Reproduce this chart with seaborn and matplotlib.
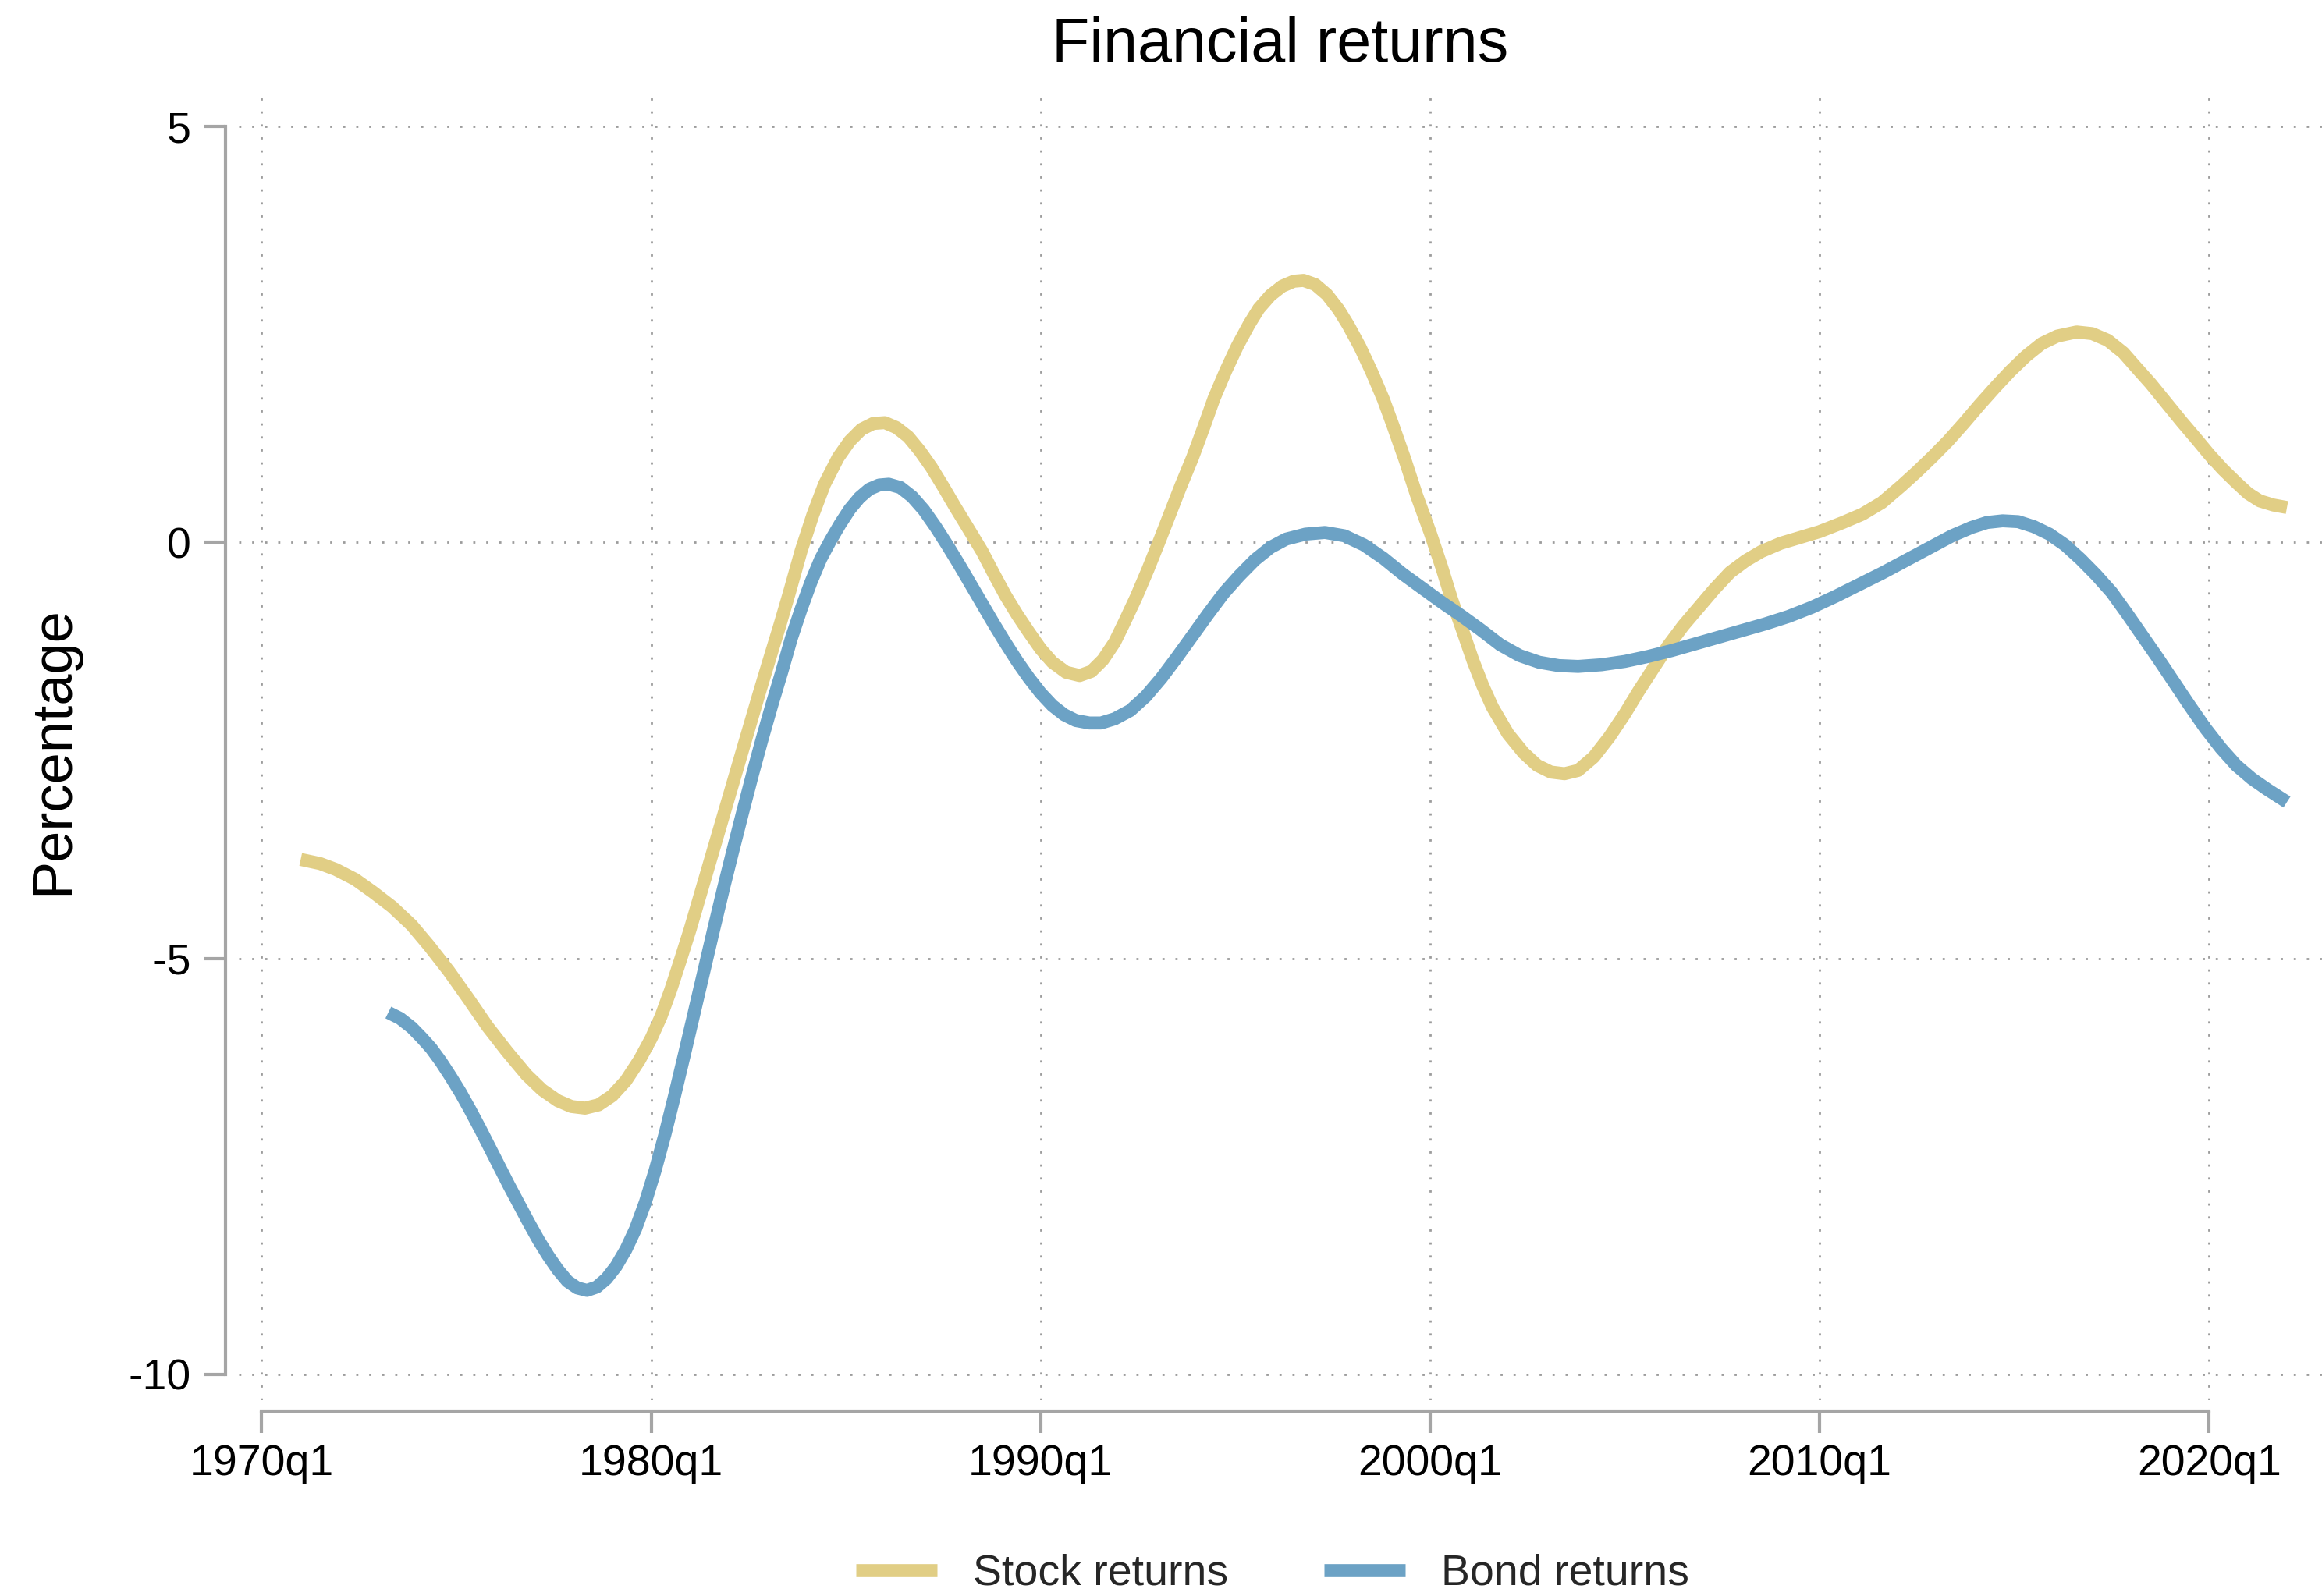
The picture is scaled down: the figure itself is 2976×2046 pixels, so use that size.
import numpy as np
import pandas as pd
import matplotlib
matplotlib.use("Agg")
import matplotlib.pyplot as plt
import seaborn as sns

# ---- data ----
stock_years = [1971.0, 1971.5, 1971.9, 1972.4, 1972.85, 1973.35, 1973.85, 1974.3, 1974.8,
               1975.3, 1975.8, 1976.3, 1976.8, 1977.2, 1977.6, 1977.95, 1978.3, 1978.65,
               1979.0, 1979.35, 1979.7, 1980.0, 1980.25, 1980.5, 1980.75, 1981.0, 1981.25,
               1981.5, 1981.75, 1982.0, 1982.25, 1982.5, 1982.75, 1983.0, 1983.3, 1983.55,
               1983.85, 1984.15, 1984.45, 1984.8, 1985.1, 1985.4, 1985.7, 1986.0, 1986.3,
               1986.6, 1986.9, 1987.2, 1987.5, 1987.8, 1988.1, 1988.5, 1988.8, 1989.1,
               1989.4, 1989.7, 1990.0, 1990.3, 1990.65, 1991.0, 1991.3, 1991.6, 1991.9,
               1992.15, 1992.45, 1992.75, 1993.05, 1993.3, 1993.6, 1993.9, 1994.2, 1994.45,
               1994.75, 1995.05, 1995.35, 1995.6, 1995.9, 1996.2, 1996.5, 1996.75, 1997.05,
               1997.35, 1997.65, 1997.9, 1998.2, 1998.5, 1998.8, 1999.05, 1999.35, 1999.65,
               2000.0, 2000.3, 2000.55, 2000.85, 2001.1, 2001.35, 2001.6, 2002.0, 2002.4,
               2002.75, 2003.1, 2003.45, 2003.8, 2004.2, 2004.6, 2005.0, 2005.35, 2005.75,
               2006.1, 2006.5, 2006.9, 2007.3, 2007.7, 2008.1, 2008.5, 2009.0, 2009.5,
               2010.0, 2010.6, 2011.1, 2011.6, 2012.1, 2012.5, 2012.9, 2013.3, 2013.7,
               2014.1, 2014.5, 2014.9, 2015.3, 2015.7, 2016.1, 2016.6, 2017.0, 2017.4,
               2017.8, 2018.1, 2018.5, 2018.9, 2019.3, 2019.7, 2020.0, 2020.35, 2020.7,
               2021.0, 2021.3, 2021.65, 2022.0]
stock_values = [-3.81, -3.86, -3.93, -4.05, -4.20, -4.38, -4.60, -4.85, -5.15,
                -5.48, -5.82, -6.12, -6.40, -6.58, -6.71, -6.78, -6.80, -6.76,
                -6.65, -6.47, -6.22, -5.96, -5.70, -5.38, -5.02, -4.65, -4.25,
                -3.85, -3.45, -3.05, -2.65, -2.25, -1.85, -1.46, -1.00, -0.60,
                -0.10, 0.33, 0.70, 1.02, 1.22, 1.36, 1.43, 1.44, 1.38,
                1.27, 1.10, 0.90, 0.67, 0.43, 0.20, -0.11, -0.38, -0.64,
                -0.87, -1.08, -1.28, -1.44, -1.56, -1.60, -1.55, -1.41, -1.20,
                -0.96, -0.66, -0.33, 0.02, 0.32, 0.68, 1.02, 1.40, 1.73,
                2.06, 2.36, 2.62, 2.81, 2.97, 3.08, 3.14, 3.15, 3.10,
                2.98, 2.80, 2.61, 2.35, 2.05, 1.72, 1.40, 1.00, 0.57,
                0.12, -0.30, -0.68, -1.08, -1.42, -1.72, -1.98, -2.30, -2.53,
                -2.68, -2.76, -2.78, -2.74, -2.58, -2.34, -2.06, -1.79, -1.50,
                -1.25, -1.00, -0.78, -0.56, -0.36, -0.22, -0.11, -0.01, 0.06,
                0.13, 0.24, 0.34, 0.48, 0.68, 0.85, 1.03, 1.22, 1.43,
                1.65, 1.86, 2.06, 2.24, 2.39, 2.48, 2.53, 2.51, 2.43,
                2.28, 2.12, 1.91, 1.68, 1.45, 1.23, 1.06, 0.88, 0.72,
                0.59, 0.50, 0.45, 0.42]

bond_years = [1973.25, 1973.55, 1973.85, 1974.1, 1974.35, 1974.6, 1974.85, 1975.1, 1975.35,
              1975.6, 1975.85, 1976.1, 1976.35, 1976.6, 1976.85, 1977.1, 1977.35, 1977.6,
              1977.85, 1978.1, 1978.35, 1978.6, 1978.85, 1979.1, 1979.35, 1979.6, 1979.85,
              1980.1, 1980.35, 1980.6, 1980.85, 1981.1, 1981.35, 1981.6, 1981.85, 1982.1,
              1982.35, 1982.6, 1982.85, 1983.1, 1983.35, 1983.6, 1983.85, 1984.1, 1984.35,
              1984.6, 1984.85, 1985.1, 1985.35, 1985.6, 1985.85, 1986.1, 1986.4, 1986.7,
              1987.0, 1987.3, 1987.6, 1987.9, 1988.2, 1988.5, 1988.8, 1989.1, 1989.4,
              1989.7, 1990.0, 1990.3, 1990.6, 1990.9, 1991.25, 1991.55, 1991.9, 1992.3,
              1992.7, 1993.1, 1993.5, 1993.9, 1994.3, 1994.7, 1995.1, 1995.5, 1995.9,
              1996.3, 1996.8, 1997.3, 1997.8, 1998.3, 1998.8, 1999.3, 1999.8, 2000.3,
              2000.8, 2001.3, 2001.8, 2002.3, 2002.8, 2003.3, 2003.8, 2004.4, 2005.0,
              2005.6, 2006.2, 2006.8, 2007.4, 2008.0, 2008.6, 2009.2, 2009.8, 2010.4,
              2011.0, 2011.6, 2012.2, 2012.8, 2013.4, 2013.9, 2014.3, 2014.7, 2015.1,
              2015.5, 2015.9, 2016.3, 2016.7, 2017.1, 2017.5, 2017.9, 2018.3, 2018.7,
              2019.1, 2019.5, 2019.9, 2020.3, 2020.7, 2021.1, 2021.5, 2022.0]
bond_values = [-5.65, -5.72, -5.83, -5.95, -6.08, -6.24, -6.42, -6.61, -6.82,
               -7.04, -7.27, -7.50, -7.73, -7.95, -8.17, -8.38, -8.57, -8.74,
               -8.88, -8.96, -8.99, -8.95, -8.85, -8.70, -8.50, -8.25, -7.93,
               -7.55, -7.12, -6.65, -6.16, -5.66, -5.16, -4.66, -4.17, -3.70,
               -3.24, -2.79, -2.36, -1.95, -1.56, -1.15, -0.80, -0.48, -0.20,
               0.02, 0.22, 0.40, 0.54, 0.64, 0.69, 0.70, 0.66, 0.55,
               0.39, 0.19, -0.03, -0.26, -0.50, -0.74, -0.98, -1.21, -1.43,
               -1.63, -1.81, -1.96, -2.07, -2.14, -2.17, -2.17, -2.12, -2.02,
               -1.85, -1.63, -1.38, -1.12, -0.86, -0.61, -0.40, -0.21, -0.06,
               0.04, 0.10, 0.12, 0.08, -0.03, -0.19, -0.38, -0.55, -0.72,
               -0.88, -1.05, -1.23, -1.36, -1.44, -1.48, -1.49, -1.47, -1.43,
               -1.37, -1.30, -1.22, -1.14, -1.06, -0.98, -0.89, -0.78, -0.65,
               -0.51, -0.37, -0.22, -0.07, 0.08, 0.18, 0.24, 0.26, 0.25,
               0.19, 0.10, -0.03, -0.20, -0.39, -0.60, -0.86, -1.13, -1.40,
               -1.68, -1.96, -2.23, -2.47, -2.68, -2.84, -2.97, -3.12]

series_names = ["Stock returns", "Bond returns"]
series_colors = ["#E1CE85", "#6CA2C5"]
x_tick_years = [1970, 1980, 1990, 2000, 2010, 2020]
x_tick_labels = ["1970q1", "1980q1", "1990q1", "2000q1", "2010q1", "2020q1"]
y_ticks = [-10, -5, 0, 5]
y_tick_labels = ["-10", "-5", "0", "5"]

df = pd.concat([
    pd.DataFrame({"year": stock_years, "value": stock_values, "series": series_names[0]}),
    pd.DataFrame({"year": bond_years, "value": bond_values, "series": series_names[1]}),
], ignore_index=True)

# ---- style ----
sns.set_theme(style="white")
plt.rcParams["font.family"] = ["Liberation Sans", "DejaVu Sans"]
plt.rcParams["axes.unicode_minus"] = False

W, H = 2976, 2046
fig = plt.figure(figsize=(W / 100, H / 100), dpi=100)
ax_left, ax_right, ax_top, ax_bottom = 306, 2976, 112, 1795
ax = fig.add_axes([ax_left / W, 1 - ax_bottom / H, (ax_right - ax_left) / W, (ax_bottom - ax_top) / H])

sns.lineplot(data=df, x="year", y="value", hue="series", hue_order=series_names,
             palette=dict(zip(series_names, series_colors)), linewidth=12,
             estimator=None, sort=False, legend=False, ax=ax)
for ln in ax.lines:
    ln.set_solid_capstyle("butt")
    ln.set_solid_joinstyle("round")

ax.set_xlim(1969.41, 2022.9)
ax.set_ylim(-10.31, 5.47)
ax.set_xticks(x_tick_years)
ax.set_xticklabels(x_tick_labels)
ax.set_yticks(y_ticks)
ax.set_yticklabels(y_tick_labels)
ax.set_xlabel("")
ax.set_ylabel("")

spine_color = "#A5A5A5"
ax.set_axisbelow(True)
ax.grid(True, color="#9C9C9C", linestyle=(0, (1, 5)), linewidth=2)
for s in ["top", "right"]:
    ax.spines[s].set_visible(False)
ax.spines["left"].set_position(("outward", 12.2))
ax.spines["left"].set_bounds(-10, 5)
ax.spines["bottom"].set_position(("outward", 10))
ax.spines["bottom"].set_bounds(1970, 2020)
for s in ["left", "bottom"]:
    ax.spines[s].set_color(spine_color)
    ax.spines[s].set_linewidth(3)
    ax.spines[s].set_capstyle("projecting")

ax.tick_params(axis="both", which="major", bottom=True, left=True, direction="out",
               length=20, width=3, color=spine_color, labelsize=40, labelcolor="black")
ax.tick_params(axis="x", pad=10)
ax.tick_params(axis="y", pad=12)

# title and y label
fig.text((ax_left + ax_right) / 2 / W, 1 - 79 / H, "Financial returns",
         ha="center", va="baseline", fontsize=57, color="black")
fig.text(87 / W, 1 - 962 / H, "Percentage", rotation=90, rotation_mode="anchor",
         ha="center", va="baseline", fontsize=52, color="black")

# legend
handles = ax.lines[:2]
fig.legend(handles, series_names, loc="center", bbox_to_anchor=(1631 / W, 1 - 2018 / H),
           ncol=2, frameon=False, fontsize=40, handlelength=1.87, handletextpad=0.83,
           columnspacing=2.2, borderaxespad=0, borderpad=0)

fig.savefig("out.png", dpi=100)
